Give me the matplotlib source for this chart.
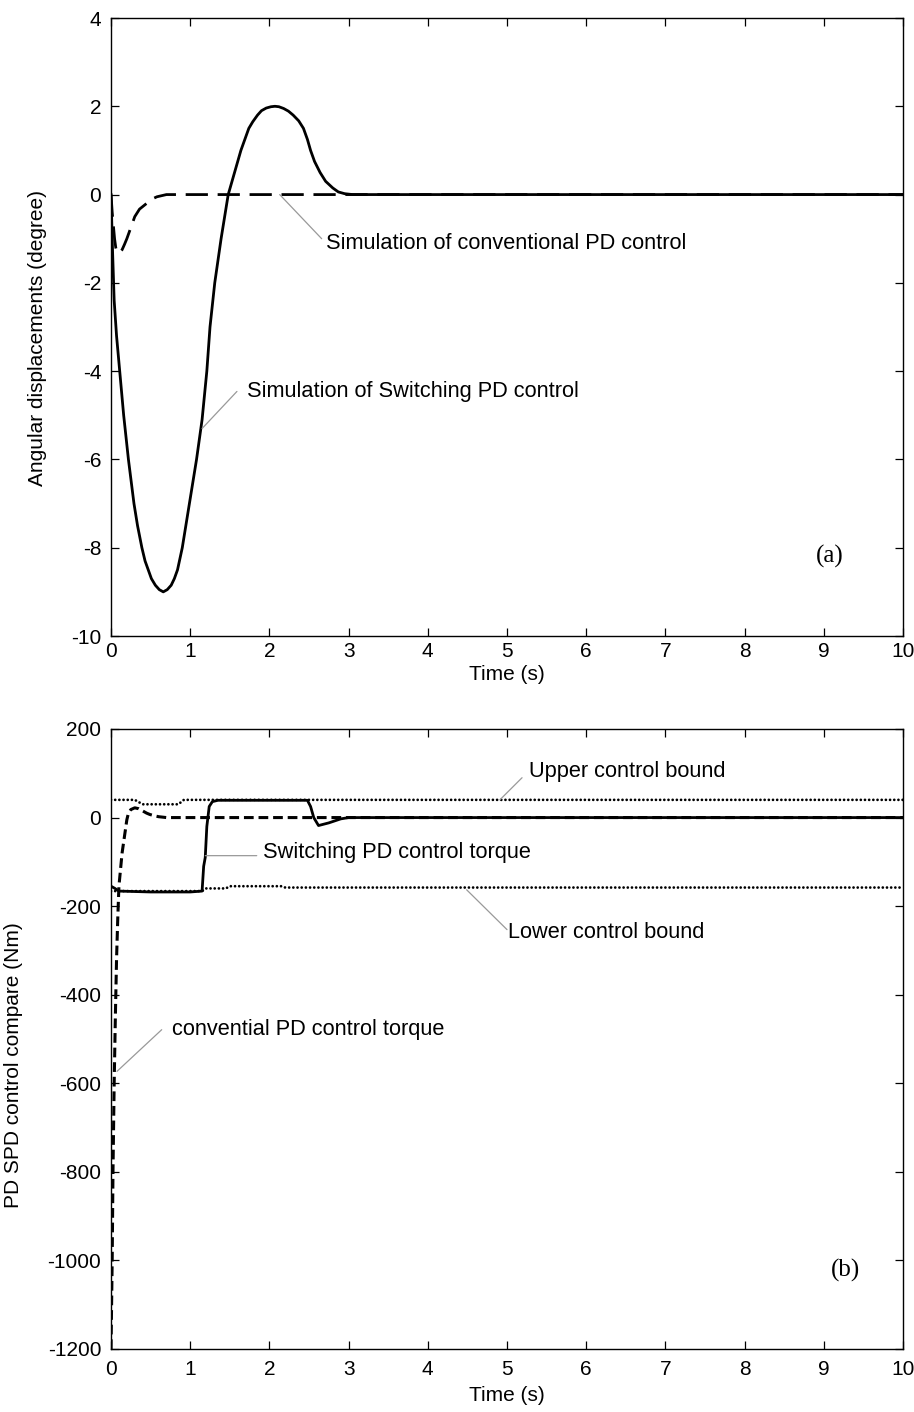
import matplotlib
matplotlib.use("Agg")
import matplotlib.pyplot as plt
import numpy as np

plt.rcParams['font.family'] = ['Liberation Sans', 'DejaVu Sans']
plt.rcParams['lines.scale_dashes'] = False
plt.rcParams['axes.unicode_minus'] = False

# ---------------- data (a) ----------------
t_switch_a = [0, 0.02, 0.04, 0.07, 0.11, 0.16, 0.22, 0.255, 0.29, 0.335, 0.39, 0.43,
              0.47, 0.51, 0.56, 0.61, 0.66, 0.71, 0.76, 0.80, 0.84, 0.87, 0.90,
              0.945, 0.99, 1.035, 1.08, 1.15, 1.21, 1.25, 1.31, 1.35, 1.39, 1.435,
              1.48, 1.56, 1.60, 1.64, 1.69, 1.74, 1.79, 1.85, 1.90, 1.96, 2.02,
              2.07, 2.12, 2.18, 2.24, 2.30, 2.37, 2.43, 2.48, 2.52, 2.57, 2.64,
              2.71, 2.80, 2.87, 2.95, 3.05, 10]
v_switch_a = [0, -1.3, -2.4, -3.2, -4.0, -5.0, -6.0, -6.5, -7.0, -7.5, -8.0, -8.3,
              -8.5, -8.7, -8.85, -8.95, -9.0, -8.95, -8.85, -8.7, -8.5, -8.25, -8.0,
              -7.5, -7.0, -6.5, -6.0, -5.1, -4.0, -3.0, -2.0, -1.5, -1.0, -0.5,
              0.0, 0.5, 0.75, 1.0, 1.25, 1.5, 1.65, 1.8, 1.9, 1.96, 1.99,
              2.0, 1.99, 1.95, 1.89, 1.8, 1.67, 1.5, 1.25, 1.0, 0.75, 0.5,
              0.3, 0.15, 0.06, 0.02, 0.0, 0.0]

t_conv_a = [0, 0.015, 0.03, 0.045, 0.06, 0.075, 0.09, 0.115, 0.14, 0.17, 0.20,
            0.25, 0.30, 0.36, 0.45, 0.52, 0.58, 0.70, 10]
v_conv_a = [0, -0.4, -0.7, -1.0, -1.2, -1.3, -1.33, -1.3, -1.25, -1.13, -1.0,
            -0.75, -0.5, -0.33, -0.2, -0.1, -0.05, 0.0, 0.0]

# ---------------- data (b) ----------------
t_switch_b = [0, 0.05, 0.10, 0.5, 1.0, 1.15, 1.17, 1.19, 1.21, 1.24, 1.28, 1.35,
              2.48, 2.52, 2.56, 2.62, 2.75, 2.90, 3.0, 10]
v_switch_b = [-155, -160, -166, -168, -168, -166, -110, -90, -20, 25, 36, 39,
              39, 25, 0, -18, -12, -3, 0, 0]

t_conv_b = [0, 0.015, 0.025, 0.04, 0.055, 0.07, 0.085, 0.10, 0.14, 0.20, 0.22,
            0.25, 0.30, 0.35, 0.40, 0.45, 0.49, 0.55, 0.60, 0.70, 10]
v_conv_b = [-1200, -1000, -800, -600, -450, -320, -230, -155, -80, -5, 10,
            18, 22, 20, 15, 10, 7, 4, 2, 0, 0]

t_upper = [0, 0.30, 0.40, 0.85, 0.92, 10]
v_upper = [40, 40, 30, 30, 40, 40]

t_lower = [0, 1.15, 1.20, 1.45, 1.50, 2.15, 2.20, 10]
v_lower = [-166, -166, -160, -160, -155, -155, -158, -158]

xticks = list(range(0, 11))
yticks_a = [-10, -8, -6, -4, -2, 0, 2, 4]
yticks_b = [-1200, -1000, -800, -600, -400, -200, 0, 200]

W, H = 914, 1412
fig = plt.figure(figsize=(W / 100, H / 100), dpi=100)

def px_axes(l, r, t, b):
    return [l / W, 1 - b / H, (r - l) / W, (b - t) / H]

ax1 = fig.add_axes(px_axes(111, 903, 18, 636))
ax2 = fig.add_axes(px_axes(111, 903, 729, 1349))

FS = 15
AFS = 15.7
for ax in (ax1, ax2):
    ax.set_xlim(0, 10)
    ax.set_xticks(xticks)
    ax.tick_params(direction='in', top=True, right=True, length=6, width=0.9,
                   labelsize=FS, color='black')
    for s in ax.spines.values():
        s.set_linewidth(1.0)

# ---- panel (a)
ax1.plot(t_switch_a, v_switch_a, color='black', lw=2.0, solid_joinstyle='round')
ax1.plot(t_conv_a, v_conv_a, color='black', lw=2.0, linestyle=(0, (16, 7)))
ax1.set_ylim(-10, 4)
ax1.set_yticks(yticks_a)
ax1.tick_params(axis='x', pad=4)
ax1.tick_params(axis='y', pad=7)
ax1.set_xlabel('Time (s)', fontsize=FS, labelpad=3)
ax1.set_ylabel('Angular displacements (degree)', fontsize=FS)
ax1.yaxis.set_label_coords(-0.081, 0.482)

gray = '0.6'
def leader(ax, p0, p1):
    ax.annotate('', xy=p0, xytext=p1,
                arrowprops=dict(arrowstyle='-', color=gray, lw=0.9,
                                shrinkA=0, shrinkB=0))

leader(ax1, (2.13, 0.0), (2.66, -1.0))
ax1.text(2.71, -1.11, 'Simulation of conventional PD control', fontsize=AFS,
         ha='left', va='center')
leader(ax1, (1.15, -5.3), (1.59, -4.46))
ax1.text(1.72, -4.46, 'Simulation of Switching PD control', fontsize=AFS,
         ha='left', va='center')
ax1.text(9.08, -8.2, '(a)', fontsize=18, ha='center', va='center',
         family=['Liberation Serif', 'DejaVu Serif'])

# ---- panel (b)
dot = dict(color='black', lw=2.0, linestyle=(0, (0.01, 3.0)), dash_capstyle='round')
ax2.plot(t_upper, v_upper, **dot)
ax2.plot(t_lower, v_lower, **dot)
ax2.plot(t_switch_b, v_switch_b, color='black', lw=2.0)
ax2.plot(t_conv_b, v_conv_b, color='black', lw=2.2, linestyle=(0, (7, 3.5)))
ax2.set_ylim(-1200, 200)
ax2.set_yticks(yticks_b)
ax2.tick_params(axis='x', pad=8)
ax2.tick_params(axis='y', pad=7)
ax2.set_xlabel('Time (s)', fontsize=FS, labelpad=5)
ax2.set_ylabel('PD SPD control compare (Nm)', fontsize=FS)
ax2.yaxis.set_label_coords(-0.111, 0.458)

leader(ax2, (4.91, 40), (5.19, 90))
ax2.text(5.28, 104, 'Upper control bound', fontsize=AFS, ha='left', va='center')
leader(ax2, (1.19, -86), (1.84, -86))
ax2.text(1.92, -79, 'Switching PD control torque', fontsize=AFS, ha='left', va='center')
leader(ax2, (4.49, -163), (5.0, -253))
ax2.text(5.01, -260, 'Lower control bound', fontsize=AFS, ha='left', va='center')
leader(ax2, (0.076, -573), (0.64, -479))
ax2.text(0.77, -479, 'convential PD control torque', fontsize=AFS, ha='left', va='center')
ax2.text(9.28, -1022, '(b)', fontsize=18, ha='center', va='center',
         family=['Liberation Serif', 'DejaVu Serif'])

fig.savefig('out.png', dpi=100)
